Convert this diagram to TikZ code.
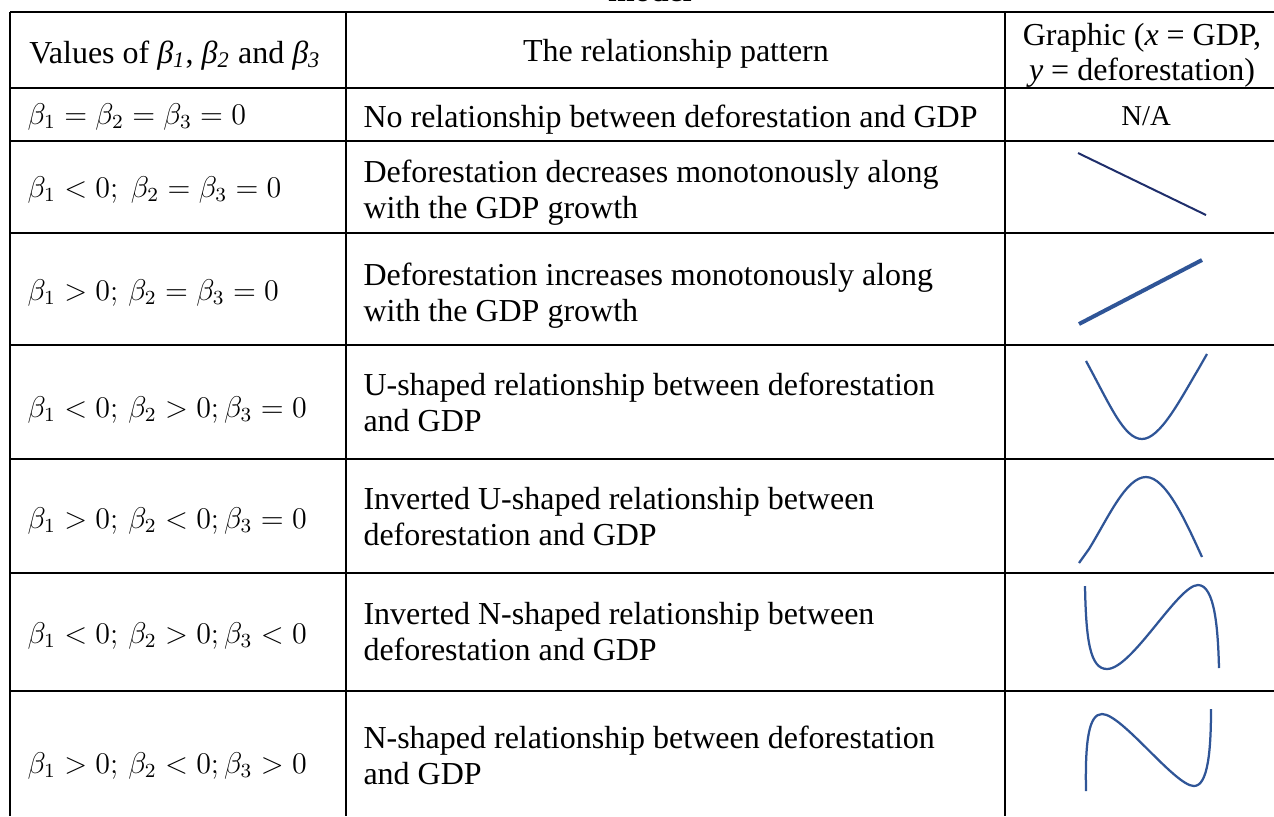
\documentclass[tikz,border=0pt]{standalone}
\usepackage{amsmath}
\usepackage{amssymb}
\usepackage{fontspec}
\setmainfont{Liberation Serif}
\usepackage{tikz}
\definecolor{curveblue}{HTML}{2F5597}
\definecolor{navyline}{HTML}{1F2E6B}
\newcommand{\bt}[1]{\textit{β}\textsubscript{\textit{#1}}}

\begin{document}
\begin{tikzpicture}[x=0.4pt, y=-0.4pt, every node/.style={inner sep=0pt, font=\fontsize{12.8}{14.4}\selectfont},
  cell/.style={anchor=base west, align=left},
  mathcell/.style={anchor=base west, font=\fontsize{12}{14.4}\selectfont},
  mid/.style={anchor=base, align=center},
  rule/.style={line width=0.8pt},
  curve/.style={draw=curveblue, line width=0.9pt}]
  \useasboundingbox (0,0) rectangle (1274,816);
  \node [font=\bfseries\fontsize{12.8}{14.4}\selectfont, anchor=base] (title) at (650, 1) {model};
  % table rules
  \foreach \yy in {12, 88, 141, 233, 345, 459, 573, 691}
    \draw [rule] (10, \yy) -- (1274, \yy);
  \foreach \xx in {10, 346, 1005}
    \draw [rule] (\xx, 12) -- (\xx, 816);
  % header
  \node [mid] (h1) at (175, 63) {Values of \bt{1}, \bt{2} and \bt{3}};
  \node [mid] (h2) at (676, 61) {The relationship pattern};
  \node [mid] (h3a) at (1142, 45) {Graphic (\textit{x} = GDP,};
  \node [mid] (h3b) at (1142, 80) {\textit{y} = deforestation)};
  % first column
  \node [mathcell] (b1) at (27, 124) {$\beta_1 = \beta_2 = \beta_3 = 0$};
  \node [mathcell] (b2) at (27, 197) {$\beta_1 < 0;\ \beta_2 = \beta_3 = 0$};
  \node [mathcell] (b3) at (27, 300) {$\beta_1 > 0;\, \beta_2 = \beta_3 = 0$};
  \node [mathcell] (b4) at (27, 417) {$\beta_1 < 0;\, \beta_2 > 0;\beta_3 = 0$};
  \node [mathcell] (b5) at (27, 528) {$\beta_1 > 0;\, \beta_2 < 0;\beta_3 = 0$};
  \node [mathcell] (b6) at (27, 643) {$\beta_1 < 0;\, \beta_2 > 0;\beta_3 < 0$};
  \node [mathcell] (b7) at (27, 773) {$\beta_1 > 0;\, \beta_2 < 0;\beta_3 > 0$};
  % second column (base = last line)
  \node [cell] (p1) at (363, 127) {No relationship between deforestation and GDP};
  \node [cell] (p2) at (363, 218) {Deforestation decreases monotonously along\\with the GDP growth};
  \node [cell] (p3) at (363, 321) {Deforestation increases monotonously along\\with the GDP growth};
  \node [cell] (p4) at (363, 431) {U-shaped relationship between deforestation\\and GDP};
  \node [cell] (p5) at (363, 545) {Inverted U-shaped relationship between\\deforestation and GDP};
  \node [cell] (p6) at (363, 660) {Inverted N-shaped relationship between\\deforestation and GDP};
  \node [cell] (p7) at (363, 784) {N-shaped relationship between deforestation\\and GDP};
  % third column
  \node [mid, font=\fontsize{11.5}{13}\selectfont] (g1) at (1146, 125) {N/A};
  \draw [draw=navyline, line width=0.8pt] (1078, 153) -- (1206, 215);
  \draw [curve, line width=1.6pt] (1079, 324) -- (1202, 260);
  \draw [curve] (1086, 361) .. controls (1110, 405) and (1124, 439) .. (1142, 439)
    .. controls (1160, 439) and (1180, 400) .. (1199, 368) -- (1207, 354);
  \draw [curve] (1079, 563) -- (1089, 549) .. controls (1108, 518) and (1126, 477) .. (1146, 477)
    .. controls (1166, 477) and (1186, 522) .. (1202, 557);
  \draw [curve] (1085, 586) .. controls (1086, 640) and (1090, 669) .. (1107, 669)
    .. controls (1132, 669) and (1178, 585) .. (1198, 585)
    .. controls (1215, 585) and (1218, 630) .. (1219, 668);
  \draw [curve] (1086, 791) .. controls (1085, 740) and (1089, 714) .. (1102, 714)
    .. controls (1122, 714) and (1175, 786) .. (1194, 786)
    .. controls (1208, 786) and (1211, 750) .. (1211, 709);
\end{tikzpicture}
\end{document}
